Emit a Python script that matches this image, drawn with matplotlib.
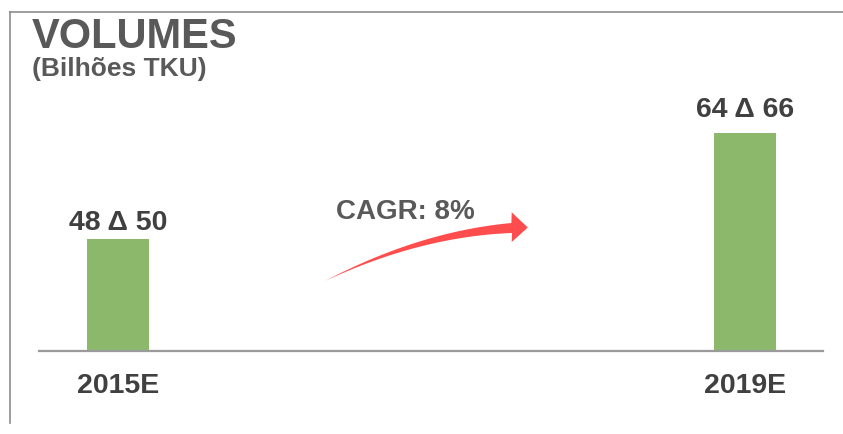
import numpy as np
import matplotlib
matplotlib.use("Agg")
import matplotlib.pyplot as plt
from matplotlib.lines import Line2D
from matplotlib.patches import Polygon

# ---- data ----
categories = ["2015E", "2019E"]
range_low = [48, 64]
range_high = [50, 66]
bar_values = [49, 65]          # midpoint of each range
cagr_label = "CAGR: 8%"
title = "VOLUMES"
subtitle = "(Bilhões TKU)"

# ---- style ----
plt.rcParams["font.family"] = ["Liberation Sans", "DejaVu Sans"]
W, H = 843, 434
BAR_COLOR = "#8cb86b"
TEXT_DARK = "#404040"
TEXT_GRAY = "#595959"
ARROW_COLOR = "#ff4d4d"

def fx(px):
    return px / W

def fy(py):
    return 1 - py / H

fig = plt.figure(figsize=(W / 100, H / 100), dpi=100)
fig.patch.set_facecolor("white")

# axes placed in pixel terms
ax_left, ax_right, ax_top, ax_bottom = 39, 823, 60, 350.5
ax = fig.add_axes([fx(ax_left), fy(ax_bottom), (ax_right - ax_left) / W, (ax_bottom - ax_top) / H])

x = np.arange(len(categories))
ax.bar(x, bar_values, width=0.1, color=BAR_COLOR, zorder=2)
ax.set_xlim(-0.1258, 1.1244)
ax.set_ylim(32.17, 76.0)

for s in ["top", "right", "left"]:
    ax.spines[s].set_visible(False)
ax.spines["bottom"].set_color("#9a9a9a")
ax.spines["bottom"].set_linewidth(1.6)
ax.set_yticks([])
ax.set_xticks([])

label_gap_px = [9, 16]
for i, (lo, hi, v) in enumerate(zip(range_low, range_high, bar_values)):
    ax.annotate(f"{lo} \u0394 {hi}", xy=(x[i], v), xytext=(0, label_gap_px[i] * 0.72),
                textcoords="offset points", ha="center", va="baseline",
                fontsize=20.5, fontweight="bold", color=TEXT_DARK)
    ax.annotate(categories[i], xy=(x[i], 32.17), xytext=(0, -43 * 0.72),
                textcoords="offset points", ha="center", va="baseline",
                fontsize=20.5, fontweight="bold", color=TEXT_DARK)

# title block
fig.text(fx(32), fy(48), title, fontsize=30, fontweight="bold", color=TEXT_GRAY, va="baseline")
fig.text(fx(32), fy(76), subtitle, fontsize=19, fontweight="bold", color=TEXT_GRAY, va="baseline")

# frame lines
fig.add_artist(Line2D([fx(10), fx(843)], [fy(11.5), fy(11.5)], transform=fig.transFigure,
                      color="#8c8c8c", lw=1.2))
fig.add_artist(Line2D([fx(10), fx(10)], [fy(11.5), fy(423)], transform=fig.transFigure,
                      color="#8c8c8c", lw=1.2))

# CAGR text
fig.text(fx(405), fy(219.3), cagr_label, ha="center", va="baseline",
         fontsize=20, fontweight="bold", color=TEXT_GRAY)

# curved tapered arrow (pixel geometry -> figure fraction)
P0 = np.array([325.0, 281.0])
P1 = np.array([420.0, 234.0])
P2 = np.array([511.7, 228.0])
t = np.linspace(0, 1, 80)[:, None]
B = (1 - t) ** 2 * P0 + 2 * t * (1 - t) * P1 + t ** 2 * P2
dB = 2 * (1 - t) * (P1 - P0) + 2 * t * (P2 - P1)
n = np.column_stack([-dB[:, 1], dB[:, 0]])
n /= np.linalg.norm(n, axis=1, keepdims=True)
hw = 5.0 * t
upper = B - n * hw
lower = B + n * hw
head = np.array([[511.7, 212.3], [527.8, 227.5], [511.7, 242.0]])
pts = np.vstack([upper, head, lower[::-1]])
pts_fig = np.column_stack([fx(pts[:, 0]), fy(pts[:, 1])])
fig.add_artist(Polygon(pts_fig, closed=True, transform=fig.transFigure,
                       facecolor=ARROW_COLOR, edgecolor="none"))

fig.savefig("out.png", dpi=100)
